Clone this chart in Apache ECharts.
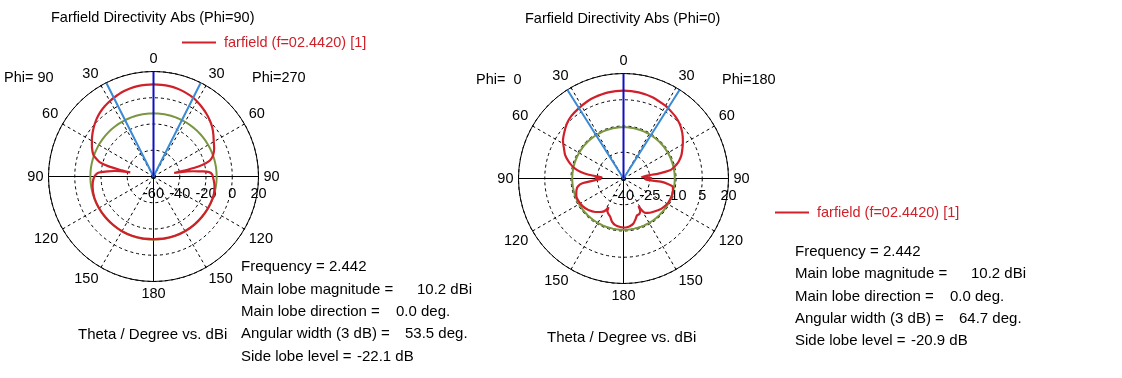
<!DOCTYPE html>
<html><head><meta charset="utf-8">
<script src="https://cdn.jsdelivr.net/npm/echarts@6/dist/echarts.min.js"></script>
<style>html,body{margin:0;padding:0;background:#fff}#c{width:1122px;height:378px}</style>
</head><body><div id="c"></div>
<script>
// ---------- data ----------
const seriesName = 'farfield (f=02.4420) [1]';
const angleTicks = [-180, -150, -120, -90, -60, -30, 0, 30, 60, 90, 120, 150, 180];
const radiusTicksLeft = [-60, -40, -20, 0, 20];
const radiusTicksRight = [-40, -25, -10, 5, 20];

// Left plot (Phi=90 / Phi=270 cut): theta (deg, negative = Phi=90 side) and dBi
const thetaLeft = [-180,-170,-160,-150,-140,-130,-120,-110,-100,-95,-90,-87,-85.4,-83.5,-82,-80,-78.5,-77,-75,-72,-70,-65,-60,-55,-50,-45,-40,-35,-30,-26.75,-20,-15,-10,-5,
  0,5,10,15,20,26.75,30,35,40,45,50,55,60,65,70,73,75,76.5,78,79.3,80.3,81.5,82.5,84,85.5,88,92,96,100,105,110,120,130,140,150,160,170,180];
const dbLeft = [-12.2,-12.1,-12.0,-11.9,-12.0,-12.0,-12.0,-12.1,-12.9,-13.6,-15.0,-16.8,-19.2,-25,-30,-42,-33,-24,-17.5,-13.3,-11.2,-8.3,-5.8,-3.2,-0.8,1.5,3.5,5.1,6.4,7.2,8.7,9.4,9.9,10.1,
  10.2,10.1,9.9,9.4,8.6,7.2,6.1,4.4,2.6,0.6,-1.6,-4.3,-7.0,-9.0,-11.6,-14,-17,-21,-28,-37,-44,-34,-29.5,-22,-17.5,-15.3,-14.4,-13.5,-12.8,-12.2,-11.95,-11.95,-12.0,-11.95,-11.9,-12.0,-12.1,-12.2];

// Right plot (Phi=0 / Phi=180 cut)
const thetaRight = [-180,-176,-170,-165,-161,-157,-154,-152.4,-150.5,-147,-140,-132,-124,-115.7,-110,-104,-100,-96.8,-93.4,-91.5,-90,-88.5,-87,-85.5,-83.5,-81,-78,-75,-72,-68,-63,-58,-52,-46,-40,-32.35,-25,-20,-10,
  0,10,20,30,32.35,40,46,52,58,63,68,72,75,78,80,82,84.7,87,89,91,92.5,95,99.5,104,108.5,114,119,125,132,140,145,148,150,151.5,153,156,160,164,167.5,172,176,180];
const dbRight = [-12.0,-12.2,-12.9,-14.5,-16.8,-18.0,-19.0,-21.5,-19.0,-17.3,-15.0,-13.0,-11.8,-11.2,-11.3,-12.3,-13.5,-16.0,-23.8,-27,-25,-24,-27.5,-25,-19.5,-15,-11.3,-8.8,-6.6,-4.0,-1.8,0.8,2.9,5.0,6.5,7.6,8.7,9.3,10.0,
  10.2,10.0,9.3,8.0,7.6,6.2,4.7,2.6,0.0,-2.2,-4.3,-6.5,-8.5,-11,-13,-19.8,-29.5,-27,-24,-27,-27.6,-18,-11.5,-10.9,-10.7,-10.8,-11.0,-11.8,-13.0,-14.8,-16.0,-16.8,-19.0,-22,-19,-17.8,-17.5,-15.5,-13.7,-12.6,-12.1,-12.0];

const frequency = '2.442';
const mainLobeLeft = 10.2, mainDirLeft = 0.0, widthLeft = 53.5, sideLobeLeft = -22.1;
const mainLobeRight = 10.2, mainDirRight = 0.0, widthRight = 64.7, sideLobeRight = -20.9;

// ---------- chart ----------
const FONT = "'Liberation Sans', Arial, sans-serif";
const TXT = '#000';
const RED = '#d0202a', GREEN = '#7a9640', BLUE = '#1010c0', LBLUE = '#3a8ad6';

function polarParts(pi, ticks) {
  const min = ticks[0], max = ticks[ticks.length - 1], step = ticks[1] - ticks[0];
  const angleAxes = [
    { polarIndex: pi, type: 'value', min: angleTicks[0], max: angleTicks[angleTicks.length - 1], interval: 30,
      startAngle: -90, clockwise: true, z: 1,
      axisLine: { show: true, lineStyle: { color: '#000', width: 1 } },
      axisTick: { show: false },
      axisLabel: { margin: 5, color: TXT, fontSize: 14.5, fontFamily: FONT,
        formatter: v => String(Math.abs(v)) },
      splitLine: { show: true, lineStyle: { color: '#000', width: 1, type: [3, 3] } } },
    { polarIndex: pi + 1, type: 'value', min: 0, max: 360, interval: 90, startAngle: 0, z: 1,
      axisLine: { show: false }, axisTick: { show: false }, axisLabel: { show: false },
      splitLine: { show: false } }
  ];
  const radiusAxes = [
    { polarIndex: pi, type: 'value', min, max, interval: step, z: 1,
      axisLine: { show: false }, axisTick: { show: false }, axisLabel: { show: false },
      splitLine: { show: true, lineStyle: { color: '#000', width: 1, type: [3, 3] } } },
    { polarIndex: pi + 1, type: 'value', min, max, interval: step, z: 1,
      axisLine: { show: true, lineStyle: { color: '#000', width: 1 } }, axisTick: { show: false },
      axisLabel: { show: true, margin: -10, color: TXT, fontSize: 14.5, fontFamily: FONT,
        verticalAlign: 'top', align: 'center' },
      splitLine: { show: false } }
  ];
  return { angleAxes, radiusAxes };
}

function seriesFor(pi, ticks, thetas, dbs, mainLobe, mainDir, width, sideLobe) {
  const rMin = ticks[0], rMax = ticks[ticks.length - 1];
  const level = mainLobe + sideLobe;
  const circle = [];
  for (let a = -180; a <= 180; a += 2) circle.push([level, a]);
  return [
    // solid axis cross (0/180 and 90/270) at the outer ring
    { type: 'line', coordinateSystem: 'polar', polarIndex: pi, symbol: 'none', silent: true,
      data: [[rMax, 0], [rMax, 180]], lineStyle: { color: '#000', width: 1 }, z: 10 },
    { type: 'line', coordinateSystem: 'polar', polarIndex: pi, symbol: 'none', silent: true,
      data: [[rMax, -90], [rMax, 90]], lineStyle: { color: '#000', width: 1 }, z: 10 },
    { type: 'line', coordinateSystem: 'polar', polarIndex: pi, data: circle, symbol: 'none', silent: true,
      lineStyle: { color: GREEN, width: 2 }, z: 11 },
    { name: seriesName, type: 'line', coordinateSystem: 'polar', polarIndex: pi, symbol: 'none', smooth: 0.2,
      data: thetas.map((t, i) => [dbs[i], t]), lineStyle: { color: RED, width: 2.2 }, itemStyle: { color: RED }, z: 12 },
    { type: 'line', coordinateSystem: 'polar', polarIndex: pi, symbol: 'none', silent: true,
      data: [[rMax, mainDir - width / 2], [rMin, mainDir], [rMax, mainDir + width / 2]],
      lineStyle: { color: LBLUE, width: 2 }, z: 13 },
    { type: 'line', coordinateSystem: 'polar', polarIndex: pi, symbol: 'none', silent: true,
      data: [[rMin, mainDir], [rMax, mainDir]], lineStyle: { color: BLUE, width: 2 }, z: 14 }
  ];
}

const L = polarParts(0, radiusTicksLeft);
const R = polarParts(2, radiusTicksRight);

function txt(text, x, y, size) {
  return { type: 'text', x, y, silent: true, z: 20,
    style: { text, fill: TXT, font: (size || 14.5) + 'px ' + FONT, textVerticalAlign: 'middle', verticalAlign: 'middle' } };
}
function stats(x, xs, y0, dy, mainLobe, mainDir, width, sideLobe) {
  return [
    txt('Frequency = ' + frequency, x, y0, 15),
    txt('Main lobe magnitude =', x, y0 + dy, 15), txt(mainLobe.toFixed(1) + ' dBi', xs[0], y0 + dy, 15),
    txt('Main lobe direction =', x, y0 + 2 * dy, 15), txt(mainDir.toFixed(1) + ' deg.', xs[1], y0 + 2 * dy, 15),
    txt('Angular width (3 dB) =', x, y0 + 3 * dy, 15), txt(width.toFixed(1) + ' deg.', xs[2], y0 + 3 * dy, 15),
    txt('Side lobe level =', x, y0 + 4 * dy, 15), txt(sideLobe.toFixed(1) + ' dB', xs[3], y0 + 4 * dy, 15)
  ];
}

const legendBase = { data: [seriesName], icon: 'rect', itemWidth: 34, itemHeight: 2, itemGap: 8, selectedMode: false, padding: 0,
  textStyle: { color: RED, fontSize: 14.5, fontFamily: FONT, padding: [0, 0, 0, 3] } };

const option = {
  backgroundColor: '#fff',
  animation: false,
  title: [
    { text: 'Farfield Directivity Abs (Phi=90)', left: 51, top: 10, padding: 0, textStyle: { fontSize: 14.5, fontWeight: 'normal', color: TXT, fontFamily: FONT } },
    { text: 'Farfield Directivity Abs (Phi=0)', left: 525, top: 11, padding: 0, textStyle: { fontSize: 14.5, fontWeight: 'normal', color: TXT, fontFamily: FONT } }
  ],
  legend: [
    Object.assign({ left: 182, top: 35 }, legendBase),
    Object.assign({ left: 775, top: 205 }, legendBase)
  ],
  polar: [
    { center: [153.5, 176.5], radius: 105 }, { center: [153.5, 176.5], radius: 105 },
    { center: [623.5, 178.5], radius: 105 }, { center: [623.5, 178.5], radius: 105 }
  ],
  angleAxis: [...L.angleAxes, ...R.angleAxes],
  radiusAxis: [...L.radiusAxes, ...R.radiusAxes],
  series: [
    ...seriesFor(0, radiusTicksLeft, thetaLeft, dbLeft, mainLobeLeft, mainDirLeft, widthLeft, sideLobeLeft),
    ...seriesFor(2, radiusTicksRight, thetaRight, dbRight, mainLobeRight, mainDirRight, widthRight, sideLobeRight)
  ],
  graphic: [
    txt('Phi= 90', 4, 78), txt('Phi=270', 252, 78),
    txt('Phi=  0', 476, 80), txt('Phi=180', 722, 80),
    txt('Theta / Degree vs. dBi', 78, 335, 15), txt('Theta / Degree vs. dBi', 547, 338, 15),
    ...stats(241, [417, 396, 405, 357], 267, 22.4, mainLobeLeft, mainDirLeft, widthLeft, sideLobeLeft),
    ...stats(795, [971, 950, 959, 911], 252, 22.3, mainLobeRight, mainDirRight, widthRight, sideLobeRight)
  ]
};
const chart = echarts.init(document.getElementById('c'), null, { renderer: 'canvas' });
chart.setOption(option);
</script></body></html>
